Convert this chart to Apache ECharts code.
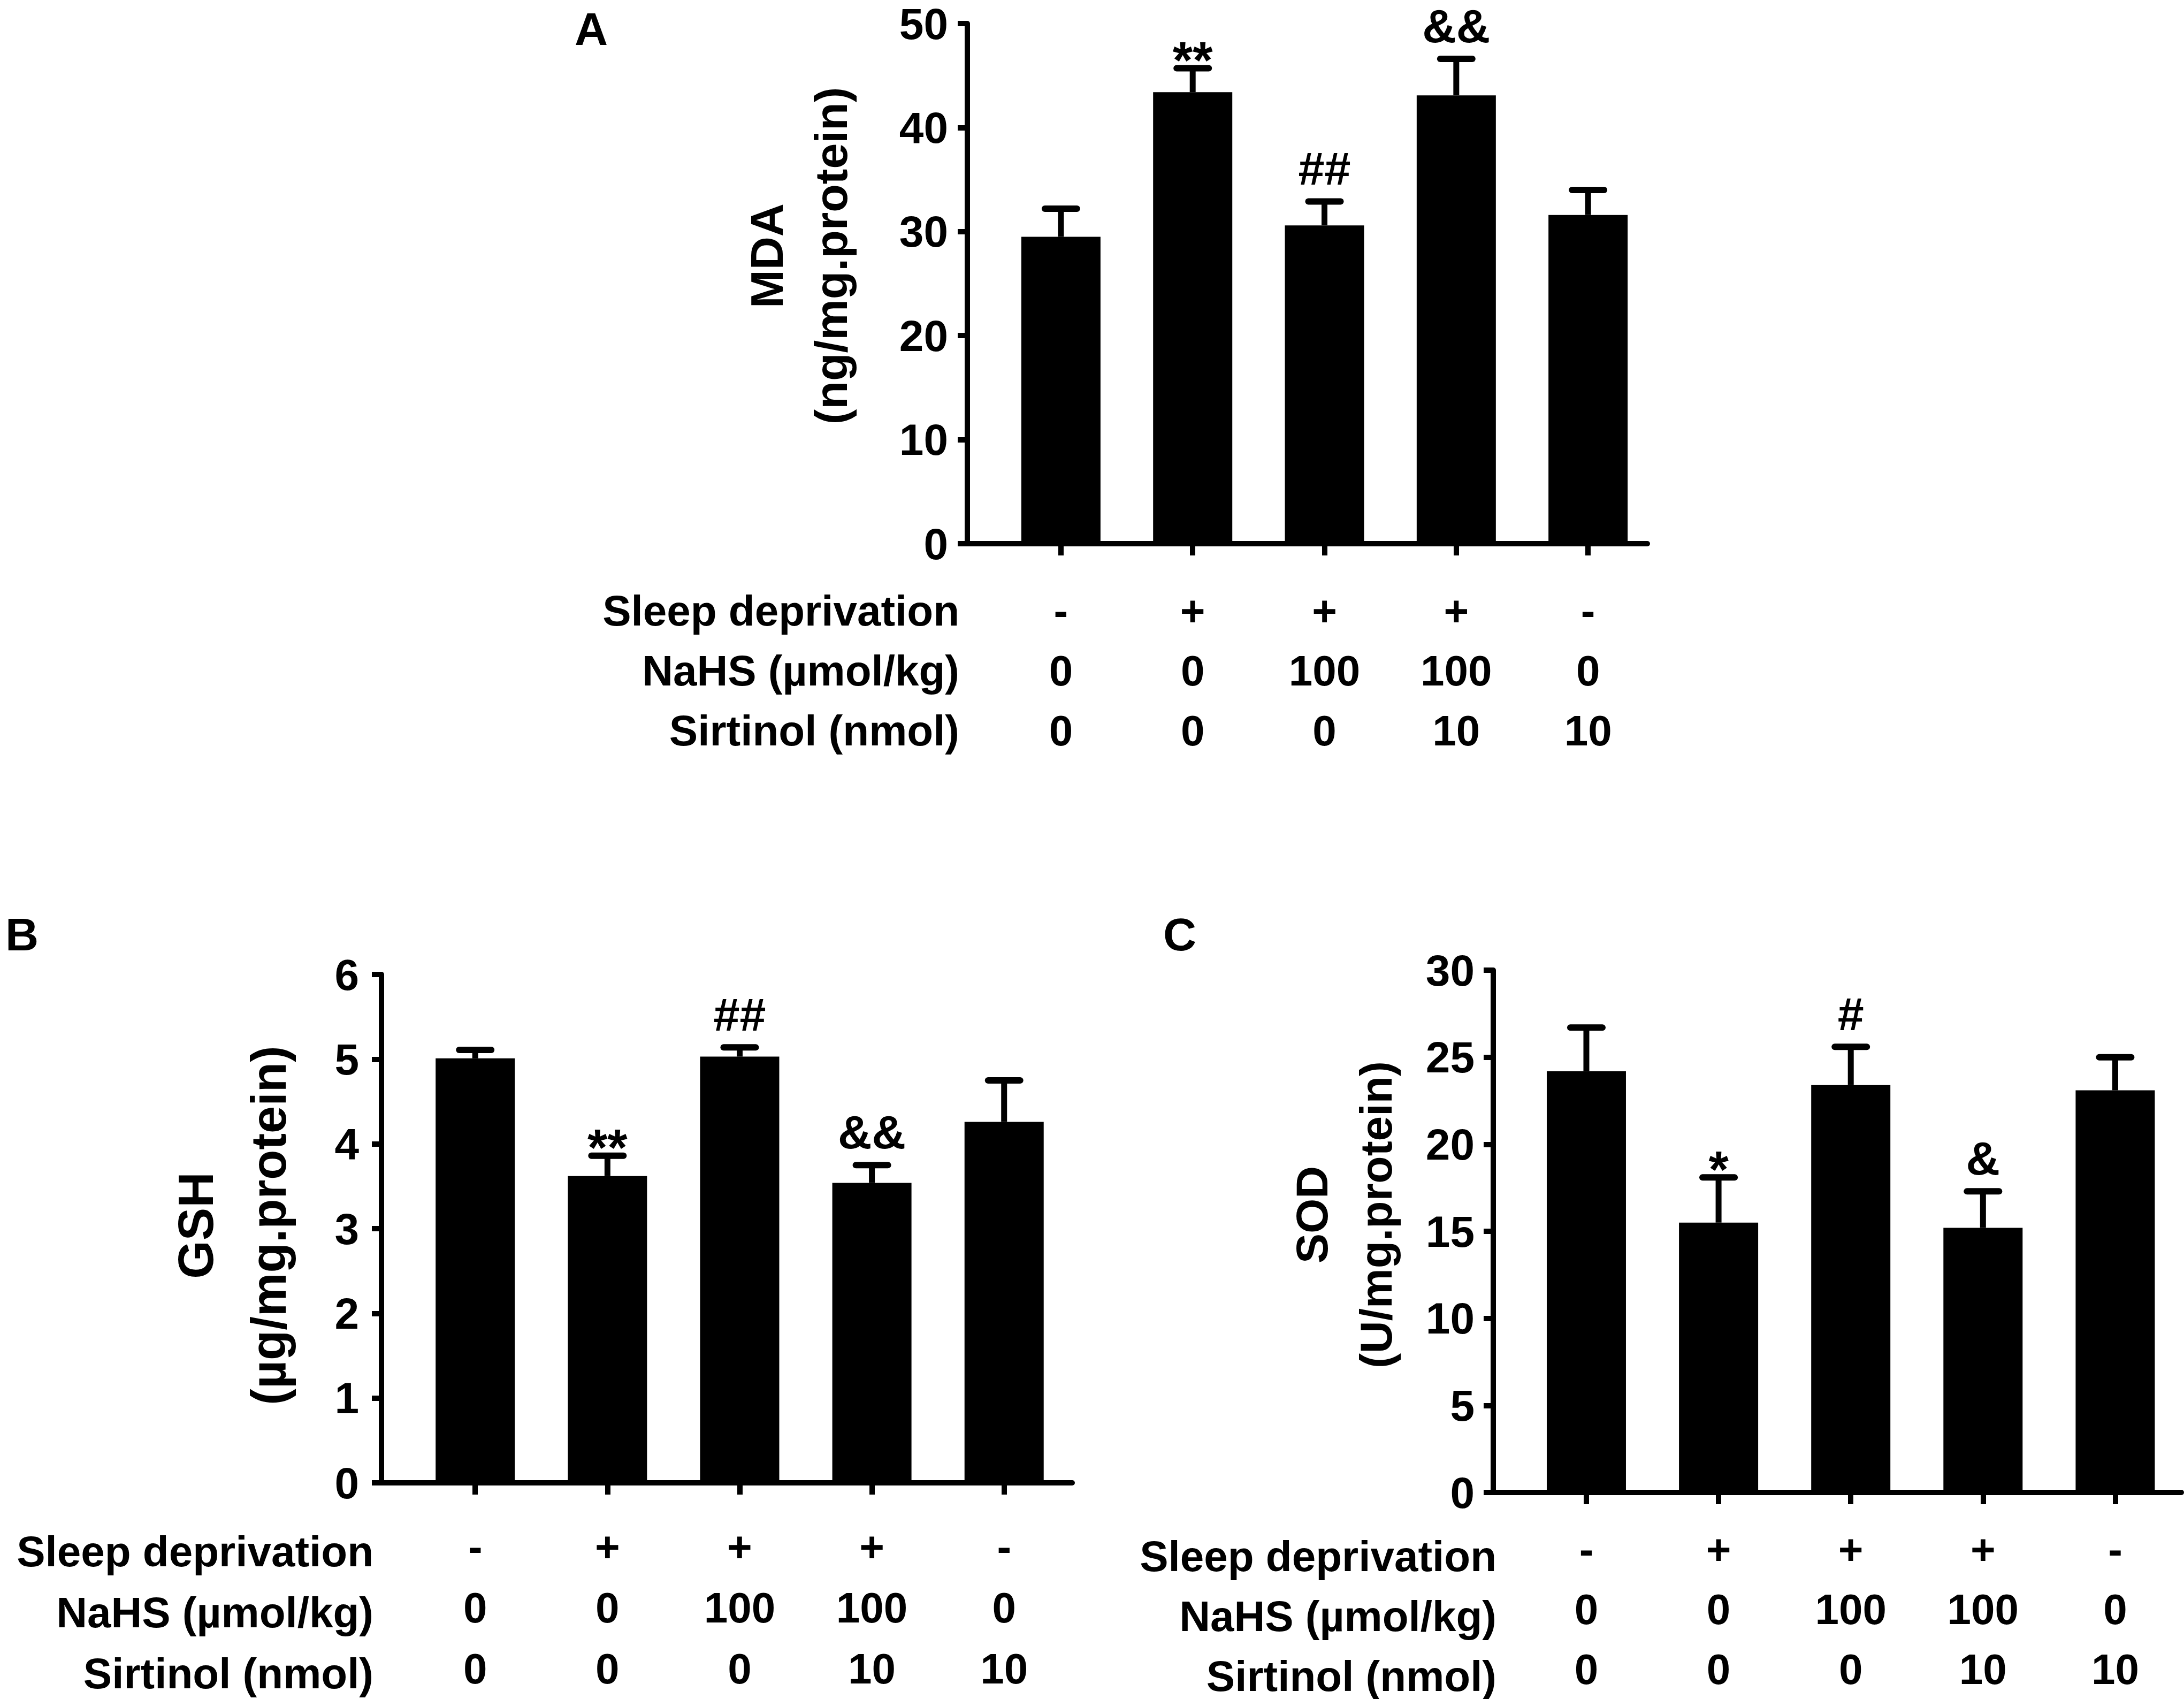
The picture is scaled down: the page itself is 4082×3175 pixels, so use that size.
<!DOCTYPE html>
<html>
<head>
<meta charset="utf-8">
<script src="https://cdn.jsdelivr.net/npm/echarts@6/dist/echarts.min.js"></script>
<style>
  html, body { margin: 0; padding: 0; background: #fff; }
  #main { width: 4082px; height: 3175px; }
</style>
</head>
<body>
<div id="main"></div>
<script>
// group positions on the x axis and the three condition rows
var groupPos = [1, 2, 3, 4, 5];
var rowNames = ['Sleep deprivation', 'NaHS (\u00b5mol/kg)', 'Sirtinol (nmol)'];
var sleepRow = ['-', '+', '+', '+', '-'];
var nahsRow = ['0', '0', '100', '100', '0'];
var sirtinolRow = ['0', '0', '0', '10', '10'];

// A: MDA
var mdaMean = [29.5, 43.4, 30.6, 43.1, 31.6];
var mdaErr = [2.7, 2.3, 2.3, 3.5, 2.4];
var mdaSig = ['', '**', '##', '&&', ''];
// B: GSH
var gshMean = [5.01, 3.62, 5.03, 3.54, 4.26];
var gshErr = [0.10, 0.24, 0.11, 0.21, 0.49];
var gshSig = ['', '**', '##', '&&', ''];
// C: SOD
var sodMean = [24.2, 15.5, 23.4, 15.2, 23.1];
var sodErr = [2.5, 2.6, 2.2, 2.1, 1.9];
var sodSig = ['', '*', '#', '&', ''];

var FONT = '"Liberation Sans", Arial, sans-serif';

var panels = [
    {letter: 'A', letterPos: [1105, 54], name: 'MDA\n(ng/mg.protein)', namePos: [1493, 478],
     nameSize: 86, nameLine: 120,
     mean: mdaMean, err: mdaErr, sig: mdaSig, yMax: 50, yStep: 10, tickMargin: 36,
     grid: {left: 1808, right: 1003, top: 44, bottom: 2159}, xMin: 0.29, xMax: 5.45,
     labelMargin: 69, rowHeight: 112, rowRight: 1793},
    {letter: 'B', letterPos: [41, 1746], name: 'GSH\n(\u00b5g/mg.protein)', namePos: [434, 2290],
     nameSize: 92, nameLine: 136,
     mean: gshMean, err: gshErr, sig: gshSig, yMax: 6, yStep: 1, tickMargin: 42,
     grid: {left: 713, right: 2078, top: 1821, bottom: 395}, xMin: 0.291, xMax: 5.515,
     labelMargin: 62, rowHeight: 114, rowRight: 698},
    {letter: 'C', letterPos: [2205, 1746], name: 'SOD\n(U/mg.protein)', namePos: [2512, 2270],
     nameSize: 84, nameLine: 120,
     mean: sodMean, err: sodErr, sig: sodSig, yMax: 30, yStep: 5, tickMargin: 35,
     grid: {left: 2791, right: 5, top: 1813, bottom: 373}, xMin: 0.296, xMax: 5.5,
     labelMargin: 50, rowHeight: 112, rowRight: 2797}
];

var chart = echarts.init(document.getElementById('main'), null, {renderer: 'svg'});

var grids = [], xAxes = [], yAxes = [], series = [], graphics = [];

panels.forEach(function (p, i) {
    grids.push(p.grid);
    xAxes.push({
        type: 'value', gridIndex: i, min: p.xMin, max: p.xMax,
        splitLine: {show: false},
        axisLine: {show: true, lineStyle: {color: '#000', width: 10}},
        axisTick: {show: true, customValues: groupPos, length: 22, lineStyle: {color: '#000', width: 10}},
        axisLabel: {
            show: true, customValues: groupPos, margin: p.labelMargin,
            color: '#000', fontFamily: FONT, fontWeight: 'bold', fontSize: 80,
            lineHeight: p.rowHeight, verticalAlign: 'top',
            formatter: function (v) {
                var k = Math.round(v) - 1;
                return sleepRow[k] + '\n' + nahsRow[k] + '\n' + sirtinolRow[k];
            }
        }
    });
    yAxes.push({
        type: 'value', gridIndex: i, min: 0, max: p.yMax, interval: p.yStep,
        splitLine: {show: false},
        axisLine: {show: true, lineStyle: {color: '#000', width: 10}},
        axisTick: {show: true, length: 18, lineStyle: {color: '#000', width: 10}},
        axisLabel: {margin: p.tickMargin, color: '#000', fontFamily: FONT, fontWeight: 'bold', fontSize: 82}
    });

    series.push({
        type: 'bar', xAxisIndex: i, yAxisIndex: i, barWidth: 148,
        itemStyle: {color: '#000'},
        data: groupPos.map(function (x, k) { return [x, p.mean[k]]; })
    });

    // error bars (mean + SEM) with the significance marks above them
    series.push({
        type: 'custom', xAxisIndex: i, yAxisIndex: i, clip: false, z: 3,
        data: groupPos.map(function (x, k) { return [x, p.mean[k], p.err[k]]; }),
        renderItem: function (params, api) {
            var base = api.coord([api.value(0), api.value(1)]);
            var top = api.coord([api.value(0), api.value(1) + api.value(2)]);
            var s = p.sig[params.dataIndex];
            var children = [
                {type: 'line', shape: {x1: base[0], y1: base[1], x2: top[0], y2: top[1]},
                 style: {stroke: '#000', lineWidth: 11}},
                {type: 'line', shape: {x1: top[0] - 30, y1: top[1], x2: top[0] + 30, y2: top[1]},
                 style: {stroke: '#000', lineWidth: 12, lineCap: 'round'}}
            ];
            if (s) {
                var star = s.indexOf('*') >= 0;
                children.push({
                    type: 'text', x: top[0], y: top[1] - (star ? 16 : 62),
                    style: {text: s, fill: '#000', font: 'bold ' + (star ? 96 : 88) + 'px ' + FONT,
                            textAlign: 'center', textVerticalAlign: 'middle'}
                });
            }
            return {type: 'group', children: children};
        }
    });

    graphics.push({
        type: 'text', x: p.letterPos[0], y: p.letterPos[1],
        style: {text: p.letter, fill: '#000', font: 'bold 86px ' + FONT,
                textAlign: 'center', textVerticalAlign: 'middle'}
    });
    graphics.push({
        type: 'text', x: p.namePos[0], y: p.namePos[1], rotation: Math.PI / 2,
        style: {text: p.name, fill: '#000', font: 'bold ' + p.nameSize + 'px ' + FONT,
                lineHeight: p.nameLine, textAlign: 'center', textVerticalAlign: 'middle'}
    });
    var zeroY = 3175 - p.grid.bottom;
    rowNames.forEach(function (r, k) {
        graphics.push({
            type: 'text', x: p.rowRight,
            y: zeroY + p.labelMargin + p.rowHeight / 2 + k * p.rowHeight,
            style: {text: r, fill: '#000', font: 'bold 80px ' + FONT,
                    textAlign: 'right', textVerticalAlign: 'middle'}
        });
    });
});

chart.setOption({
    backgroundColor: '#fff',
    animation: false,
    grid: grids,
    xAxis: xAxes,
    yAxis: yAxes,
    series: series,
    graphic: graphics
});
</script>
</body>
</html>
